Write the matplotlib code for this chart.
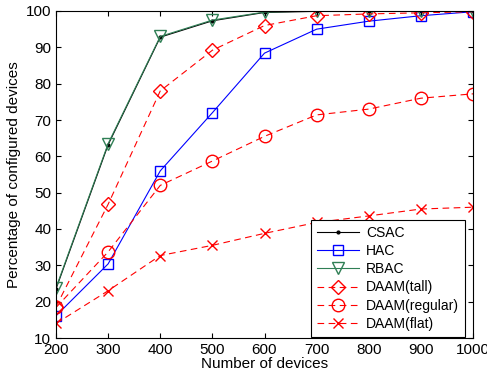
import matplotlib
matplotlib.use("Agg")
import matplotlib.pyplot as plt

devices = [200, 300, 400, 500, 600, 700, 800, 900, 1000]
csac = [23.5, 63.2, 92.8, 97.3, 99.6, 99.9, 100, 100, 100]
hac = [16.1, 30.4, 56.0, 72.0, 88.4, 95.0, 97.2, 98.7, 99.8]
rbac = [23.8, 63.5, 93.0, 97.5, 99.7, 100, 100, 100, 100]
daam_tall = [18.6, 46.8, 78.0, 89.2, 96.0, 98.7, 99.2, 99.5, 99.8]
daam_regular = [18.4, 33.7, 52.0, 58.7, 65.5, 71.4, 73.0, 76.0, 77.2]
daam_flat = [14.0, 23.0, 32.7, 35.5, 38.8, 41.8, 43.6, 45.5, 46.0]

plt.rcParams.update({
    "font.family": ["Liberation Sans", "DejaVu Sans"],
    "font.size": 11,
    "xtick.direction": "in",
    "ytick.direction": "in",
    "xtick.top": True,
    "ytick.right": True,
    "lines.linewidth": 0.8,
})

fig = plt.figure(figsize=(4.87, 3.77), dpi=100)
ax = fig.add_axes([56 / 487, 1 - 338 / 377, (473 - 56) / 487, (338 - 11) / 377])

green = "#2f7f55"
dash = (0, (6, 4))
ax.plot(devices, csac, "k.-", markersize=4, label="CSAC")
ax.plot(devices, hac, "-", color="blue", marker="s", markersize=7.5,
        markerfacecolor="none", label="HAC")
ax.plot(devices, rbac, "-", color=green, marker="v", markersize=9,
        markerfacecolor="none", label="RBAC")
ax.plot(devices, daam_tall, color="red", linestyle=dash, marker="D",
        markersize=7, markerfacecolor="none", label="DAAM(tall)")
ax.plot(devices, daam_regular, color="red", linestyle=dash, marker="o",
        markersize=9, markerfacecolor="none", label="DAAM(regular)")
ax.plot(devices, daam_flat, color="red", linestyle=dash, marker="x",
        markersize=7, label="DAAM(flat)")

ax.set_xlim(200, 1000)
ax.set_ylim(10, 100)
ax.set_xticks(devices)
ax.set_yticks(range(10, 101, 10))
ax.set_xlabel("Number of devices", labelpad=0)
ax.set_ylabel("Percentage of configured devices", labelpad=3)

leg = ax.legend(loc="lower right", bbox_to_anchor=(0.981, 0.003),
                fontsize=10, fancybox=False, edgecolor="black", framealpha=1,
                handlelength=3.0, borderaxespad=0, labelspacing=0.3,
                borderpad=0.45, handletextpad=0.5)
leg.get_frame().set_linewidth(0.8)

fig.savefig("out.png", dpi=100)
